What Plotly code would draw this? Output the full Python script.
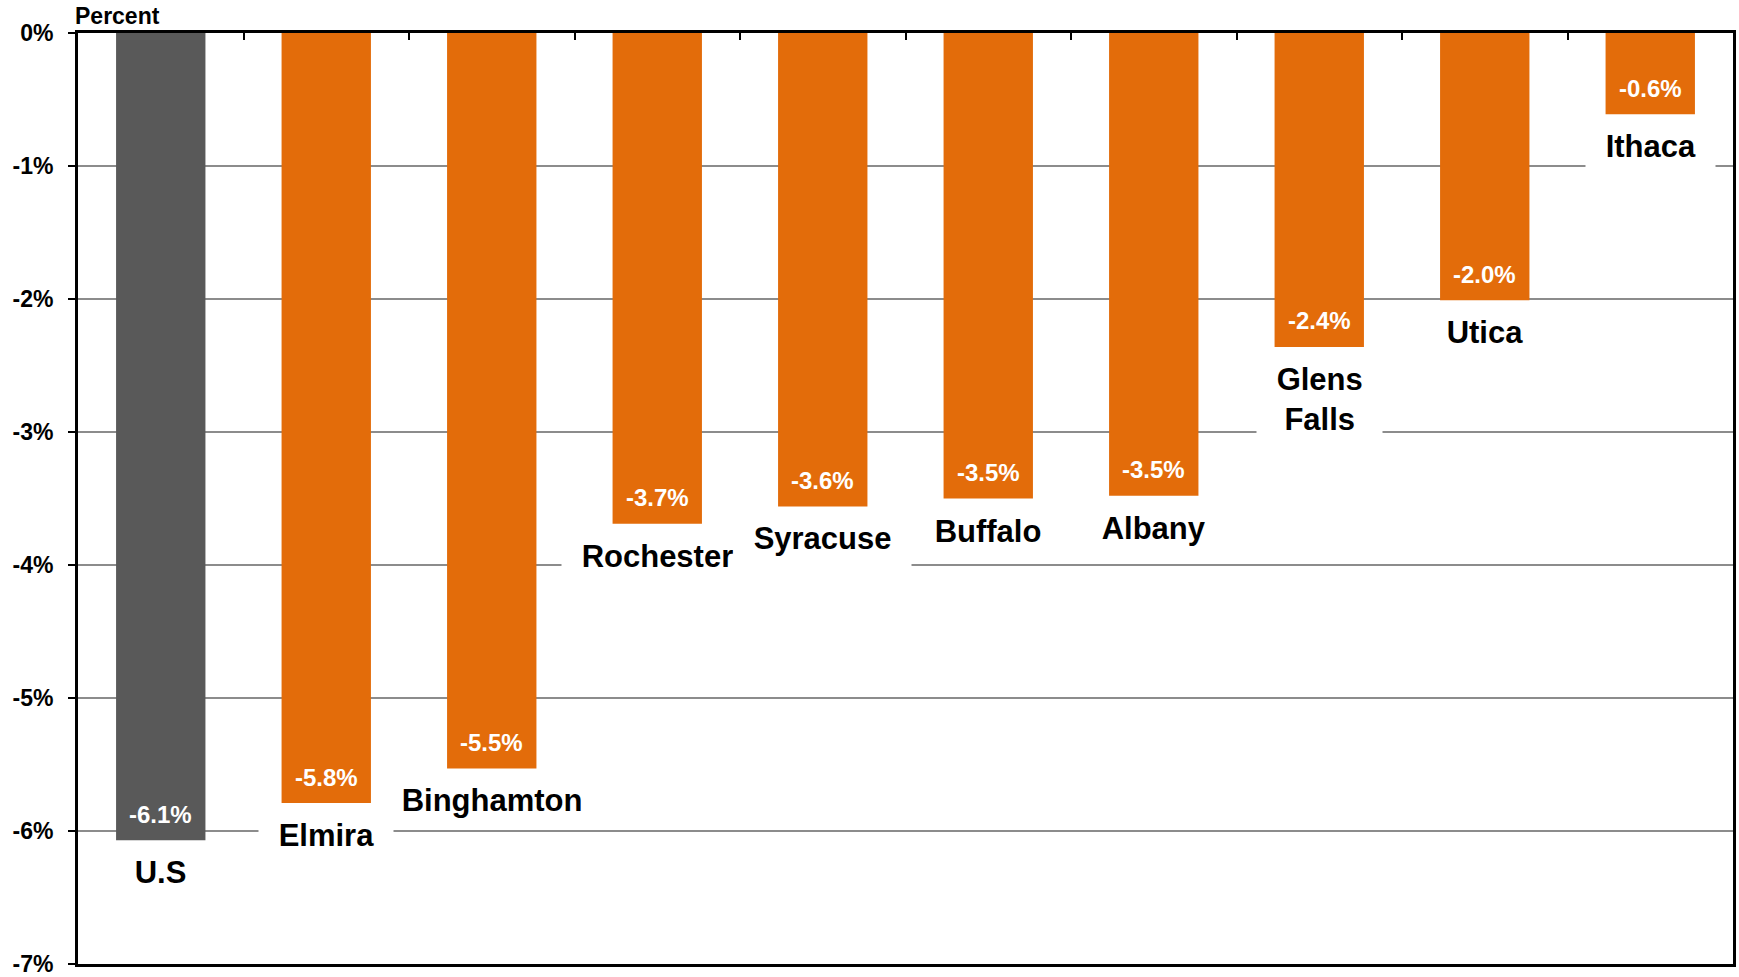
import plotly.graph_objects as go

categories = ["U.S", "Elmira", "Binghamton", "Rochester", "Syracuse", "Buffalo",
              "Albany", "Glens<br>Falls", "Utica", "Ithaca"]
values = [-6.07, -5.79, -5.53, -3.69, -3.56, -3.50, -3.48, -2.36, -2.01, -0.61]
value_labels = ["-6.1%", "-5.8%", "-5.5%", "-3.7%", "-3.6%", "-3.5%", "-3.5%",
                "-2.4%", "-2.0%", "-0.6%"]
y_ticks = [0, -1, -2, -3, -4, -5, -6, -7]
y_tick_labels = ["0%", "-1%", "-2%", "-3%", "-4%", "-5%", "-6%", "-7%"]

GRAY = "#595959"
ORANGE = "#E36C0A"
FONT = "Liberation Sans, Arial, sans-serif"

colors = [GRAY] + [ORANGE] * (len(categories) - 1)

fig = go.Figure()
fig.add_trace(go.Bar(
    x=list(range(len(categories))), y=values,
    marker=dict(color=colors, line=dict(width=0)),
    width=0.54, hoverinfo="skip",
))

annotations = []
nb = "\u00a0"
for i, (cat, v, lab) in enumerate(zip(categories, values, value_labels)):
    annotations.append(dict(
        x=i, y=v, xref="x", yref="y", text="<b>%s</b>" % lab,
        showarrow=False, yanchor="middle", xanchor="center", yshift=26,
        font=dict(family=FONT, size=24, color="white"),
    ))
    text = "<br>".join(nb + "<b>%s</b>" % part + nb for part in cat.split("<br>"))
    annotations.append(dict(
        x=i, y=v, xref="x", yref="y", text=text,
        showarrow=False, yanchor="top", xanchor="center", yshift=-3,
        bgcolor="white", borderpad=11,
        font=dict(family=FONT, size=31, color="black"),
    ))

annotations.append(dict(
    x=0, y=1, xref="paper", yref="paper", text="<b>Percent</b>",
    showarrow=False, xanchor="left", yanchor="bottom", yshift=2, xshift=-5,
    font=dict(family=FONT, size=23, color="black"),
))

fig.update_layout(
    width=1739, height=977,
    margin=dict(l=78, r=6, t=33, b=13, autoexpand=False),
    plot_bgcolor="white", paper_bgcolor="white",
    showlegend=False, bargap=0.46,
    annotations=annotations,
    xaxis=dict(
        range=[-0.5, len(categories) - 0.5], side="top", automargin=False,
        tickmode="array", tickvals=[i + 0.5 for i in range(len(categories) - 1)],
        showticklabels=False, ticks="inside", ticklen=7, tickwidth=2, tickcolor="black",
        showgrid=False, zeroline=False,
        showline=True, linecolor="black", linewidth=3, mirror=True,
    ),
    yaxis=dict(
        range=[-7, 0], tickmode="array", tickvals=y_ticks, automargin=False,
        ticktext=["<b>%s</b>" % t for t in y_tick_labels],
        ticks="outside", ticklen=7, tickwidth=2, tickcolor="black",
        tickfont=dict(family=FONT, size=23, color="black"),
        ticklabelstandoff=10, ticklabeloverflow="allow",
        showgrid=True, gridcolor="#8c8c8c", gridwidth=1.5,
        zeroline=False,
        showline=True, linecolor="black", linewidth=3, mirror=True,
    ),
)

fig.write_html("out.html")
